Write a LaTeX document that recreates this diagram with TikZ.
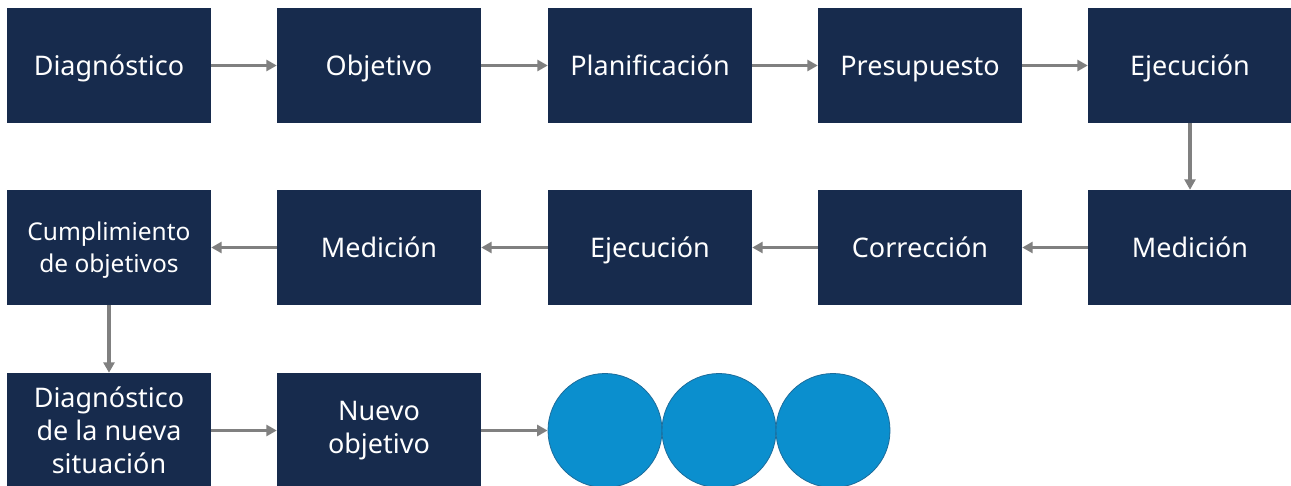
\documentclass[tikz,border=0pt]{standalone}
\usepackage{fontspec}
\setmainfont{Noto Sans}
\usetikzlibrary{arrows.meta}
\definecolor{navy}{RGB}{23,43,77}
\definecolor{arrowgray}{RGB}{128,128,128}
\definecolor{blueball}{RGB}{11,143,206}
\definecolor{blueedge}{RGB}{28,108,155}
\begin{document}
\begin{tikzpicture}[x=1pt,y=-1pt,
  boxbase/.style={rectangle,fill=navy,text=white,minimum width=204pt,minimum height=115pt,inner sep=0pt,align=center},
  stepbox/.style={boxbase,font=\fontsize{27}{33}\selectfont,text height=19.3pt,text depth=0pt},
  multibox/.style={boxbase,font=\fontsize{27}{33}\selectfont},
  smallbox/.style={boxbase,font=\fontsize{24.5}{32}\selectfont},
  ball/.style={circle,fill=blueball,draw=blueedge,line width=0.8pt,minimum size=114pt,inner sep=0pt},
  conn/.style={draw=arrowgray,line width=3.2pt,-{Triangle[length=10.5pt,width=11pt]}}
]
\useasboundingbox (0,0) rectangle (1291,486);
\begin{scope}
\clip (0,0) rectangle (1291,486);
% row 1
\node[stepbox] (a1) at (109,65.5) {Diagnóstico};
\node[stepbox] (a2) at (379,65.5) {Objetivo};
\node[stepbox] (a3) at (650,65.5) {Planificación};
\node[stepbox] (a4) at (920,65.5) {Presupuesto};
\node[stepbox] (a5) at (1190,65.5) {Ejecución};
% row 2
\node[stepbox] (b5) at (1190,247.5) {Medición};
\node[stepbox] (b4) at (920,247.5) {Corrección};
\node[stepbox] (b3) at (650,247.5) {Ejecución};
\node[stepbox] (b2) at (379,247.5) {Medición};
\node[boxbase] (b1) at (109,247.5) {};
\node[smallbox,fill=none,minimum width=0pt,minimum height=0pt] (b1t) at ([yshift=-3pt]b1.center) {Cumplimiento\\de objetivos};
% row 3
\node[multibox] (c1) at (109,430.5) {Diagnóstico\\de la nueva\\situación};
\node[multibox] (c2) at (379,430.5) {Nuevo\\objetivo};
\node[ball] (k1) at (605,430.5) {};
\node[ball] (k2) at (719,430.5) {};
\node[ball] (k3) at (833,430.5) {};
% connectors
\draw[conn] (a1) -- (a2);
\draw[conn] (a2) -- (a3);
\draw[conn] (a3) -- (a4);
\draw[conn] (a4) -- (a5);
\draw[conn] (a5) -- (b5);
\draw[conn] (b5) -- (b4);
\draw[conn] (b4) -- (b3);
\draw[conn] (b3) -- (b2);
\draw[conn] (b2) -- (b1);
\draw[conn] (b1) -- (c1);
\draw[conn] (c1) -- (c2);
\draw[conn] (c2.east) -- (k1.west);
\end{scope}
\end{tikzpicture}
\end{document}
